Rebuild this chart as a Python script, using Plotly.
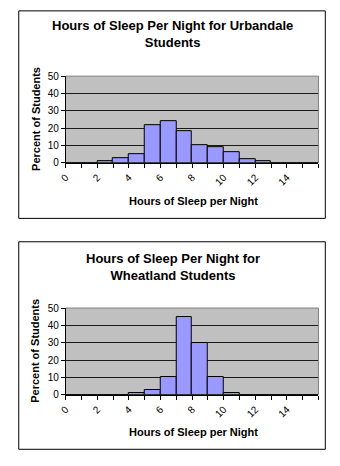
import plotly.graph_objects as go

# ---- data ----
bin_start = list(range(16))  # hours bins [h, h+1)
urbandale_pct = [0, 0, 1, 3, 5, 22, 24, 18, 10, 9, 6, 2, 1, 0, 0, 0]
wheatland_pct = [0, 0, 0, 0, 1, 3, 10, 45, 30, 10, 1, 0, 0, 0, 0, 0]
x_tick_vals = list(range(17))
x_tick_labels = ["0", "", "2", "", "4", "", "6", "", "8", "", "10", "", "12", "", "14", "", ""]
y_tick_vals = [0, 10, 20, 30, 40, 50]
title_top = "Hours of Sleep Per Night for Urbandale<br>Students"
title_bottom = "Hours of Sleep Per Night for<br>Wheatland Students"
x_title = "Hours of Sleep per Night"
y_title = "Percent of Students"

W, H = 340, 466
FONT = "Arial, Liberation Sans, sans-serif"

def px(x):
    return x / W

def py(y):
    return 1 - y / H

fig = go.Figure()
centers = [b + 0.5 for b in bin_start]
for i, vals in enumerate([urbandale_pct, wheatland_pct]):
    fig.add_trace(go.Bar(
        x=centers, y=vals, width=1,
        marker=dict(color="#9999FF", line=dict(color="black", width=1)),
        xaxis="x" if i == 0 else "x2", yaxis="y" if i == 0 else "y2",
        showlegend=False, hoverinfo="x+y",
    ))

xa = dict(range=[0, 16], tickmode="array", tickvals=x_tick_vals, ticktext=x_tick_labels,
          tickangle=-45, ticks="outside", ticklen=4, tickcolor="black",
          showline=True, linecolor="black", linewidth=1, showgrid=False, zeroline=False,
          tickfont=dict(family=FONT, size=10, color="black"), fixedrange=True)
ya = dict(range=[0, 50], tickmode="array", tickvals=y_tick_vals,
          ticks="outside", ticklen=4, tickcolor="black",
          showline=True, linecolor="black", linewidth=1, showgrid=True, gridcolor="#1a1a1a",
          gridwidth=1, zeroline=False,
          tickfont=dict(family=FONT, size=10, color="black"), fixedrange=True)

# plot areas in pixels
pl, pr = 60, 318
top_plot = (72, 161)
bot_plot = (310, 399)

fig.update_layout(
    width=W, height=H, margin=dict(l=0, r=0, t=0, b=0),
    paper_bgcolor="white", plot_bgcolor="#C0C0C0",
    bargap=0,
    xaxis=dict(xa, domain=[px(pl), px(pr)], anchor="y"),
    yaxis=dict(ya, domain=[py(top_plot[1]), py(top_plot[0])], anchor="x"),
    xaxis2=dict(xa, domain=[px(pl), px(pr)], anchor="y2"),
    yaxis2=dict(ya, domain=[py(bot_plot[1]), py(bot_plot[0])], anchor="x2"),
)

shapes = []
annotations = []
boxes = [(5, 218), (242, 455)]
titles = [(title_top, 29), (title_bottom, 268)]
for k, (yr, xr_) in enumerate([("y", "x"), ("y2", "x2")]):
    b0, b1 = boxes[k]
    shapes.append(dict(type="rect", xref="paper", yref="paper",
                       x0=px(12), x1=px(325), y0=py(b1), y1=py(b0),
                       line=dict(color="black", width=1), fillcolor="rgba(0,0,0,0)"))
    # grey top/right border of plot area
    shapes.append(dict(type="line", xref=xr_ + " domain", yref=yr + " domain",
                       x0=0, x1=1, y0=1, y1=1, line=dict(color="#808080", width=1), layer="above"))
    shapes.append(dict(type="line", xref=xr_ + " domain", yref=yr + " domain",
                       x0=1, x1=1, y0=0, y1=1, line=dict(color="#808080", width=1), layer="above"))
    t, ty = titles[k]
    annotations.append(dict(text="<b>%s</b>" % t, xref="paper", yref="paper",
                            x=px(169), y=py(ty), xanchor="center", yanchor="middle",
                            showarrow=False, font=dict(family=FONT, size=13, color="black")))
    pt = top_plot if k == 0 else bot_plot
    annotations.append(dict(text="<b>%s</b>" % y_title, xref="paper", yref="paper",
                            x=px(29), y=py((pt[0] + pt[1]) / 2 - 1), xanchor="center", yanchor="middle",
                            textangle=-90, showarrow=False,
                            font=dict(family=FONT, size=11, color="black")))
    xy = 200 if k == 0 else 437
    annotations.append(dict(text="<b>%s</b>" % x_title, xref="paper", yref="paper",
                            x=px(190), y=py(xy), xanchor="center", yanchor="middle",
                            showarrow=False, font=dict(family=FONT, size=11, color="black")))

fig.update_layout(shapes=shapes, annotations=annotations)
fig.write_html("out.html")
